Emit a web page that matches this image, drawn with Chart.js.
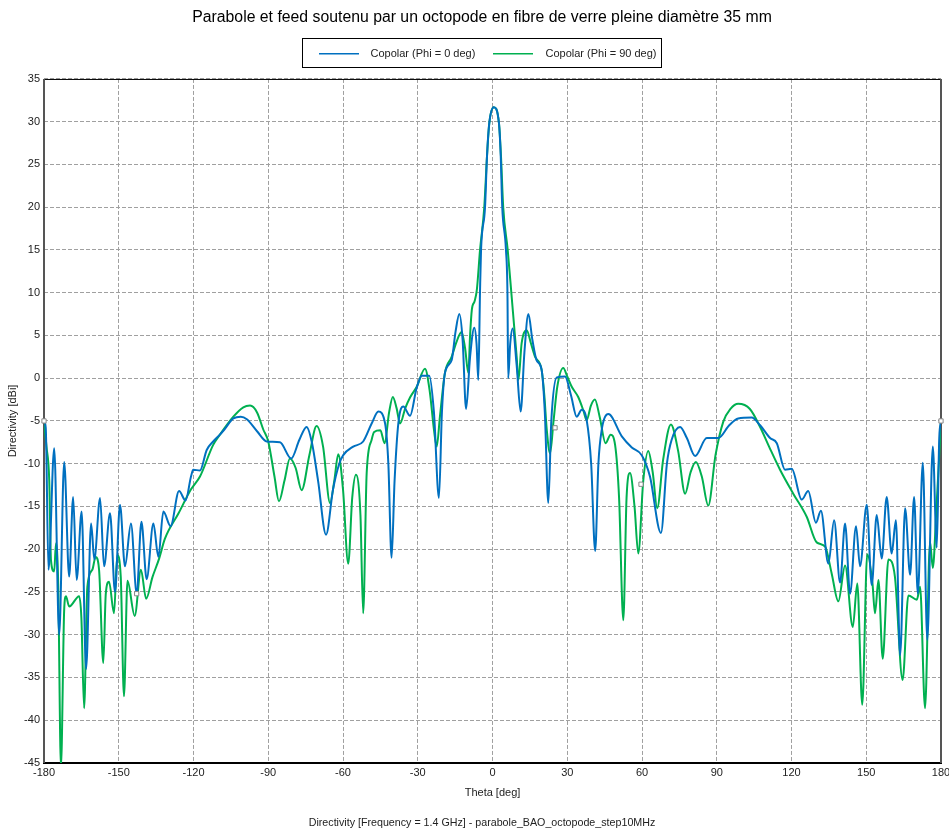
<!DOCTYPE html>
<html><head><meta charset="utf-8">
<script src="https://cdn.jsdelivr.net/npm/chart.js@4"></script>
<style>
html,body{margin:0;padding:0;overflow:hidden;background:#fff;width:949px;height:832px}
#wrap{position:absolute;left:0;top:0;width:964px;height:832px}
canvas{display:block}
</style>
</head><body><div id="wrap"><canvas id="c" width="964" height="832" style="width:964px;height:832px"></canvas></div>
<script>
const chartTitle = "Parabole et feed soutenu par un octopode en fibre de verre pleine diamètre 35 mm";
const chartSubtitle = "Directivity [Frequency = 1.4 GHz] - parabole_BAO_octopode_step10MHz";
const seriesNames = ["Copolar (Phi = 0 deg)", "Copolar (Phi = 90 deg)"];
const xTicks = [-180,-150,-120,-90,-60,-30,0,30,60,90,120,150,180];
const yTicks = [35,30,25,20,15,10,5,0,-5,-10,-15,-20,-25,-30,-35,-40,-45];

const thetaPhi0 = [-180,-179.3,-178.2,-175.9,-173.9,-171.9,-169.9,-168.3,-166.9,-164.9,-163.1,-161.1,-159.8,-157.5,-155.9,-153.5,-151.5,-149.5,-147.5,-145.1,-142.8,-140.9,-138.8,-136.1,-134.1,-132.1,-129.2,-125.8,-123.2,-121,-120.1,-117.4,-114.7,-112.1,-109.4,-107.6,-104,-101,-98.6,-94.5,-90.6,-85.3,-80.8,-77.5,-74.6,-72.5,-70,-66.8,-64,-61.5,-59.9,-55.9,-51.9,-48.5,-45.8,-43.1,-41.8,-40.5,-39.3,-37.8,-35.8,-33.1,-30.5,-28.4,-25.4,-23.5,-21.5,-20.3,-19.1,-16.4,-14.8,-13.3,-12,-10.6,-9,-7.3,-6.4,-5.7,-5.0,-4.6,-3.0,-2.2,-1.3,0.5,2.6,3.3,3.9,5.4,6.0,6.3,7.1,8.1,9.7,11.3,12.8,14.4,16,17.7,19.7,21,22.4,23.6,25.8,29.1,31.5,33.8,35.8,37.8,39.6,41.2,42.5,43.8,46.5,51.9,55.9,59.9,63.2,67.6,70,71.9,75.3,78,81.3,86,90.6,95,98.6,104,107.4,111.4,114.1,117.4,120.1,124.1,126.7,129.8,131.8,134.8,137.1,139.5,141.5,143.5,145.9,147.5,150.2,152.2,154.2,156.2,158.2,160.2,161.9,163.6,165.6,167.6,169.2,170.7,172.7,174.5,176.7,178.3,179.3,180];
const dirPhi0 = [-5,-5.8,-22.4,-8.2,-30.0,-9.8,-23.2,-13.9,-23.6,-15.6,-34.0,-17.0,-21.2,-14.0,-22.0,-15.8,-25.0,-14.8,-22.0,-17.0,-25.2,-16.8,-23.5,-17.0,-20.9,-15.6,-17.3,-13.2,-14.3,-11.5,-10.7,-10.8,-8.4,-7.4,-6.6,-6.0,-4.7,-4.5,-4.8,-6.2,-7.4,-7.5,-9.4,-7.2,-5.7,-7.5,-12,-18.3,-13,-10,-9.0,-8.0,-7.4,-5.3,-3.9,-5.3,-10,-21.0,-12,-5.3,-3.3,-4.4,-1.2,0.3,0.3,-4,-14.0,-4,0.6,2.1,5.5,7.5,4.5,-3.6,2.5,5.9,4,-0.2,10.3,15,20,26,29.8,31.7,29.8,26,20.1,15,10,0,4,5.8,1.5,-3.9,3,7.5,4.5,2.1,1.0,-4,-14.6,-5,0.1,0.2,-2,-4.5,-3.7,-4.9,-10,-20.2,-10,-6.1,-4.2,-6.8,-8.1,-9.0,-11.5,-18.1,-10,-7.2,-5.7,-7,-9.1,-7.0,-7.0,-5.5,-4.7,-4.6,-5.5,-7.0,-7.6,-10.7,-10.6,-14.2,-13.2,-16.9,-15.5,-21.7,-16.6,-23.9,-17.0,-25.2,-17.3,-22.0,-14.8,-24.2,-16.0,-21.1,-13.9,-20.5,-16.6,-32.4,-15.2,-23.0,-13.9,-25.2,-9.9,-30.6,-8.0,-19.8,-7,-5];

const thetaPhi90 = [-180,-179,-177.9,-177.2,-175.9,-175.2,-174.3,-173.2,-171.9,-171.2,-169.9,-165.9,-165,-163.9,-162.6,-160.6,-159.3,-157.9,-156.2,-155.2,-153.9,-151.9,-150.6,-149.2,-147.9,-146.5,-143.6,-141.1,-139,-136.5,-133.8,-131.5,-126,-121,-117.4,-112.1,-109.4,-104,-100,-97.3,-94.5,-92,-90,-87.5,-85.7,-83.5,-81.3,-79,-76.6,-73.5,-70.6,-68,-65.2,-63.5,-61.9,-60,-57.9,-56.3,-54.8,-53,-51.9,-50.5,-48.5,-47.5,-45,-43.3,-41.5,-40,-38.5,-37.1,-35,-33,-30.4,-27.1,-25.2,-23.5,-22.4,-21.1,-19.1,-16.4,-14.5,-12.4,-11,-9.7,-9,-8.3,-7.2,-6.3,-5.0,-3.3,-2.2,-1.3,0.5,2.6,3.4,4.3,6.1,7.7,9.7,10.4,11.7,13.7,15.5,17.1,19.7,20.8,21.8,23.1,24.5,26,28.4,30,31.8,34.4,36.5,37.8,39.5,41.1,43,45.4,47.4,49.2,50.8,52.5,53.8,55.2,57,58.5,60.5,62.5,64.3,66.1,68.5,71.6,74.5,77.3,79.5,81.6,84,86.6,89.5,92.6,95.5,98.6,103.3,107.4,111,115.4,120.7,126.1,130.1,133.5,136.1,138.8,141.5,144.6,146.4,148.4,150.4,152.5,153.5,154.9,156.6,158.9,161.5,164.6,166.9,170.3,171.6,173.6,175.6,176.7,178.2,179.3,180];
const dirPhi90 = [-5,-8,-11.9,-21.3,-22.6,-19.3,-24,-45.5,-27.1,-25.5,-26.7,-25.5,-28,-38.6,-24.4,-22.4,-20.9,-22.4,-33.3,-25.2,-23.8,-27.5,-20.7,-23.2,-37.2,-23.7,-27.8,-22.4,-25.8,-23.3,-21.1,-18.8,-15.8,-13.0,-11.5,-7.8,-6.6,-4.5,-3.4,-3.2,-4.0,-6,-7.4,-11.5,-14.4,-12,-9.4,-10.5,-13.1,-9,-5.6,-8,-14.6,-12,-8.9,-13,-21.7,-14,-11.3,-16,-27.5,-11.1,-7.2,-6.3,-6.1,-7.6,-4,-2.2,-3.5,-5.3,-3.5,-2.2,-1.0,1.1,-1.5,-6,-8.0,-4.5,0.6,2.5,4.2,5.4,3.5,0.6,5,8.0,9,10.3,15,20,26,29.8,31.7,29.8,26,20,15,9.5,2.5,-0.2,4.1,5.6,4,2.5,1.0,-2,-6.1,-8.8,-5,-1,1.2,0.2,-1.0,-2.2,-3.8,-4.9,-3.2,-2.5,-4.5,-7.6,-6.6,-7.8,-14,-28.3,-14,-11.1,-15,-20.5,-12,-8.5,-11,-15.2,-9.5,-5.4,-8.5,-13.5,-11,-9.8,-11.5,-14.9,-9,-5.1,-3.6,-3.0,-3.6,-5.7,-8,-10.7,-13.5,-16.2,-19.2,-19.7,-22.8,-26.1,-21.9,-29.1,-24.0,-38.2,-20.6,-24,-27.5,-23.6,-32.8,-21.2,-23.2,-35.3,-25.4,-25.9,-24.4,-38.6,-19.1,-22.2,-15,-9,-5];

const markerTheta = [-180,-142.8,25.1,59.6,180];
const markerDir = [-5,-25.2,-5.8,-12.4,-5];

const toPts = (xs, ys) => xs.map((x, i) => ({x: x, y: ys[i]}));
const FONT = "'Liberation Sans', Arial, sans-serif";

const framePlugin = {
  id: 'frame',
  beforeDatasetsDraw(chart) {
    const a = chart.chartArea, ctx = chart.ctx;
    ctx.save();
    ctx.strokeStyle = '#000'; ctx.lineWidth = 1;
    ctx.beginPath(); ctx.moveTo(a.left, a.top + 0.5); ctx.lineTo(a.right, a.top + 0.5); ctx.stroke();
    ctx.lineWidth = 2;
    ctx.beginPath(); ctx.moveTo(a.left - 1, a.bottom); ctx.lineTo(a.right + 1, a.bottom); ctx.stroke();
    ctx.strokeStyle = '#555';
    ctx.beginPath(); ctx.moveTo(a.left, a.top); ctx.lineTo(a.left, a.bottom); ctx.stroke();
    ctx.beginPath(); ctx.moveTo(a.right, a.top); ctx.lineTo(a.right, a.bottom); ctx.stroke();
    ctx.restore();
  }
};

const legendPlugin = {
  id: 'boxLegend',
  afterDraw(chart) {
    const ctx = chart.ctx;
    const left = Math.round(chart.width / 2 - 180.5) + 0.5;
    const top = 38.5;
    ctx.save();
    ctx.strokeStyle = '#000'; ctx.lineWidth = 1;
    ctx.strokeRect(left, top, 359, 29);
    const offs = [[16, 56, 68], [190, 230, 243]];
    ctx.font = "11px " + FONT;
    ctx.textBaseline = 'middle';
    [0, 1].forEach(i => {
      const ds = chart.data.datasets[i];
      ctx.fillStyle = ds.borderColor;
      ctx.fillRect(Math.round(left + offs[i][0]), 53, 40, 1.5);
      ctx.fillStyle = '#222';
      ctx.fillText(ds.label, left + offs[i][2], 53.5);
    });
    ctx.restore();
  }
};

new Chart(document.getElementById('c'), {
  type: 'line',
  data: {
    datasets: [
      {label: seriesNames[0], data: toPts(thetaPhi0, dirPhi0), borderColor: '#0070C0', backgroundColor: '#0070C0',
       borderWidth: 2, pointRadius: 0, cubicInterpolationMode: 'monotone', order: 0},
      {label: seriesNames[1], data: toPts(thetaPhi90, dirPhi90), borderColor: '#00B050', backgroundColor: '#00B050',
       borderWidth: 2, pointRadius: 0, cubicInterpolationMode: 'monotone', order: 0},
      {label: 'markers', data: toPts(markerTheta, markerDir), showLine: false, pointStyle: 'rect', pointRadius: 3,
       backgroundColor: '#fff', borderColor: '#888', borderWidth: 1, clip: false, order: -1}
    ]
  },
  options: {
    responsive: false,
    animation: false,
    events: [],
    layout: {padding: {left: 0, right: 0, top: 0, bottom: 0}},
    plugins: {
      legend: {display: false},
      tooltip: {enabled: false},
      title: {display: true, text: chartTitle, color: '#000', font: {family: FONT, size: 15.8, weight: 'normal'},
              padding: {top: 8.5, bottom: 51.5}},
      subtitle: {display: true, position: 'bottom', text: chartSubtitle, color: '#222',
                 font: {family: FONT, size: 10.7, weight: 'normal'}, padding: {top: 13.6, bottom: 2.6}}
    },
    scales: {
      x: {
        type: 'linear', min: -180, max: 180,
        afterBuildTicks: s => { s.ticks = xTicks.map(v => ({value: v})); },
        afterFit: s => { s.height = 40; s.paddingRight = 23; },
        ticks: {color: '#222', font: {family: FONT, size: 11}, padding: 3, maxRotation: 0, autoSkip: false},
        grid: {color: '#a0a0a0', lineWidth: 1, drawTicks: false},
        border: {display: false, dash: [4, 2]},
        title: {display: true, text: 'Theta [deg]', color: '#222', font: {family: FONT, size: 11}, padding: {top: 0, bottom: 3.4}}
      },
      y: {
        type: 'linear', min: -45, max: 35,
        afterBuildTicks: s => { s.ticks = yTicks.slice().reverse().map(v => ({value: v})); },
        afterFit: s => { s.width = 44; },
        ticks: {color: '#222', font: {family: FONT, size: 11}, padding: 4, autoSkip: false},
        grid: {color: '#a0a0a0', lineWidth: 1, drawTicks: false},
        border: {display: false, dash: [4, 2]},
        title: {display: true, text: 'Directivity [dBi]', color: '#222', font: {family: FONT, size: 11}, padding: {top: 6.4, bottom: 0}}
      }
    }
  },
  plugins: [framePlugin, legendPlugin]
});
</script>
</body></html>
